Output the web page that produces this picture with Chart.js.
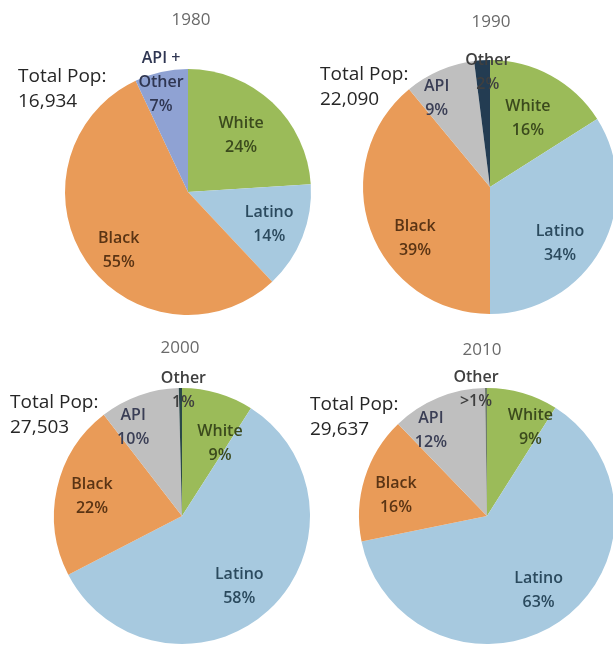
<!DOCTYPE html>
<html>
<head>
<meta charset="utf-8">
<script src="https://cdn.jsdelivr.net/npm/chart.js@4.4.0/dist/chart.umd.min.js"></script>
<style>
  body { margin: 0; background: #fff; overflow: hidden; width: 613px; height: 647px; position: relative; }
  .pie { position: absolute; left: 0; top: 0; width: 640px; height: 660px; }
</style>
</head>
<body>
<div class="pie"><canvas id="pie1980"></canvas></div>
<div class="pie"><canvas id="pie1990"></canvas></div>
<div class="pie"><canvas id="pie2000"></canvas></div>
<div class="pie"><canvas id="pie2010"></canvas></div>

<script>
// dados
const anos = ['1980', '1990', '2000', '2010'];
const totalPop = ['16,934', '22,090', '27,503', '29,637'];

const grupos1980 = ['White', 'Latino', 'Black', 'API +|Other'];
const valores1980 = [24, 14, 55, 7];

const grupos = ['White', 'Latino', 'Black', 'API', 'Other'];
const valores1990 = [16, 34, 39, 9, 2];
const valores2000 = [9, 58, 22, 10, 0.4];
const valores2010 = [9, 63, 16, 12, 0.25];
const textoPct2000 = ['9%', '58%', '22%', '10%', '1%'];
const textoPct2010 = ['9%', '63%', '16%', '12%', '>1%'];

// cores
const corFatia = { White: '#9bbb59', Latino: '#a7c9df', Black: '#e99b58', API: '#bfbfbf', Other: '#233c52', 'API +|Other': '#8fa2d3' };
const corTexto = { White: '#3b4a1d', Latino: '#2b4a5e', Black: '#5a3414', API: '#3a3e55', Other: '#3f3f3f', 'API +|Other': '#2f3652' };

const FONTE = '"Open Sans", "DejaVu Sans", sans-serif';

// plugin: titulo, total e rotulos das fatias
const textosPizza = {
  id: 'textosPizza',
  afterDatasetsDraw(chart, args, opts) {
    const ctx = chart.ctx;
    const arcos = chart.getDatasetMeta(0).data;
    ctx.save();
    ctx.textAlign = 'center';
    ctx.textBaseline = 'middle';

    ctx.font = '17px ' + FONTE;
    ctx.fillStyle = '#6a6a6a';
    ctx.fillText(opts.titulo, opts.tituloPos[0], opts.tituloPos[1]);

    ctx.textAlign = 'left';
    ctx.font = '19px ' + FONTE;
    ctx.fillStyle = '#262626';
    ctx.fillText('Total Pop:', opts.totalPos[0], opts.totalPos[1]);
    ctx.fillText(opts.total, opts.totalPos[0], opts.totalPos[1] + 25);

    ctx.textAlign = 'center';
    ctx.font = '600 16px ' + FONTE;
    arcos.forEach((arco, i) => {
      const p = arco.getProps(['x', 'y', 'startAngle', 'endAngle', 'outerRadius'], true);
      const meio = (p.startAngle + p.endAngle) / 2;
      const [f, dx, dy] = opts.lugar[i];
      const lx = p.x + Math.cos(meio) * p.outerRadius * f + dx;
      const ly = p.y + Math.sin(meio) * p.outerRadius * f + dy;
      const nome = chart.data.labels[i];
      const linhas = nome.split('|').concat(opts.pct[i]);
      ctx.fillStyle = corTexto[nome];
      const topo = ly - (linhas.length - 1) * 24 / 2;
      linhas.forEach((t, k) => ctx.fillText(t, lx, topo + k * 24));
    });
    ctx.restore();
  }
};

function desenhaPizza(id, nomes, valores, pct, geo, extra) {
  const W = 640, H = 660;
  const [cx, cy, r] = geo;
  const cores = nomes.map(n => corFatia[n]);
  if (extra.corOutro) cores[cores.length - 1] = extra.corOutro;
  new Chart(document.getElementById(id).getContext('2d'), {
    type: 'pie',
    data: {
      labels: nomes,
      datasets: [{
        data: valores,
        backgroundColor: cores,
        borderWidth: 0
      }]
    },
    options: {
      responsive: true,
      maintainAspectRatio: false,
      animation: false,
      layout: { padding: { left: cx - r, top: cy - r, right: W - cx - r, bottom: H - cy - r } },
      plugins: {
        legend: { display: false },
        tooltip: { enabled: false },
        textosPizza: Object.assign({ pct: pct }, extra)
      }
    },
    plugins: [textosPizza]
  });
}

const pct = v => v.map(x => x + '%');

desenhaPizza('pie1980', grupos1980, valores1980, pct(valores1980), [188, 192, 123], {
  titulo: anos[0], tituloPos: [191, 20], total: totalPop[0], totalPos: [18, 77],
  lugar: [[0.63, 0, 0], [0.71, 0, 0], [0.73, 5, 8], [0.93, -2, 2]]
});
desenhaPizza('pie1990', grupos, valores1990, pct(valores1990), [490, 187, 127], {
  titulo: anos[1], tituloPos: [491, 22], total: totalPop[1], totalPos: [320, 75],
  lugar: [[0.62, 0, 0], [0.71, -9, 13], [0.72, 11, 20], [0.82, -12, 7], [0.91, 5, 1]]
});
desenhaPizza('pie2000', grupos, valores2000, textoPct2000, [182, 516, 128], {
  titulo: anos[2], tituloPos: [180, 348], total: totalPop[2], totalPos: [10, 403], corOutro: '#2b4848',
  lugar: [[0.64, 15, 6], [0.71, -4, 3], [0.72, 0, 0], [0.79, -15, 7], [0.98, 3, 0]]
});
desenhaPizza('pie2010', grupos, valores2010, textoPct2010, [487, 516, 128], {
  titulo: anos[3], tituloPos: [482, 350], total: totalPop[3], totalPos: [310, 405], corOutro: '#6f7d6a',
  lugar: [[0.77, 16, 6], [0.71, 0, 0], [0.72, -3, 7], [0.80, -17, 9], [0.99, -10, 0]]
});
</script>
</body>
</html>
